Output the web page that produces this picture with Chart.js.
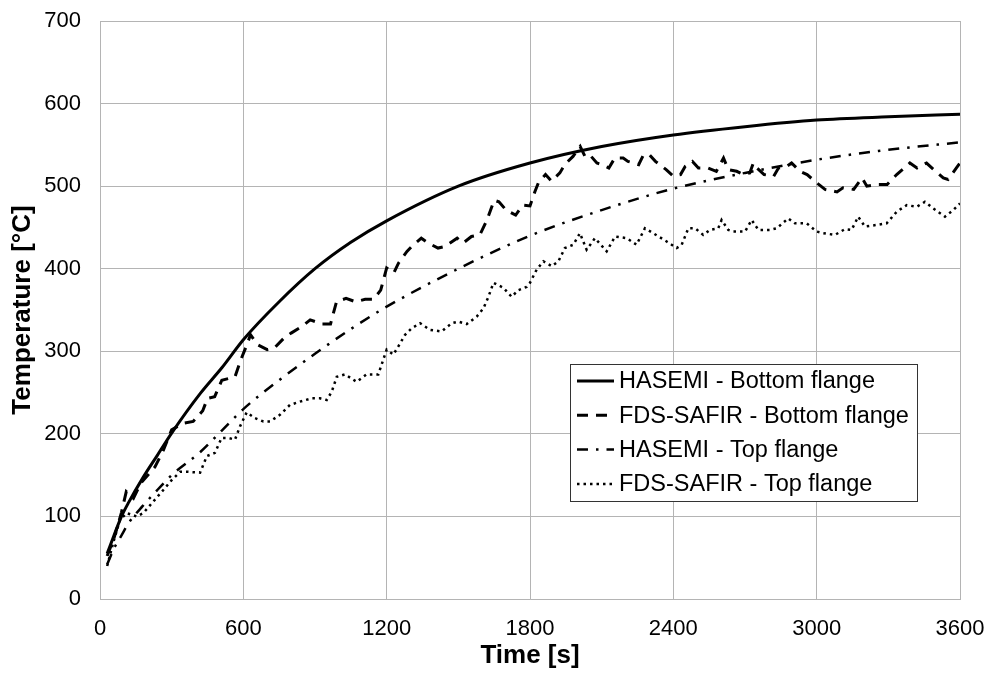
<!DOCTYPE html>
<html>
<head>
<meta charset="utf-8">
<script src="https://cdn.jsdelivr.net/npm/chart.js@4.4.1/dist/chart.umd.min.js"></script>
<style>
  html, body { margin: 0; padding: 0; background: #fff; }
  #wrap { width: 987px; height: 673px; }
</style>
</head>
<body>
<div id="wrap"><canvas id="chart" width="987" height="673"></canvas></div>
<script>
// HASEMI model curves (smooth)
const hasemiTime = [30, 60, 90, 120, 180, 240, 300, 420, 510, 600, 750, 900, 1050, 1200, 1500, 1800, 2100, 2400, 2700, 3000, 3300, 3600];
const hasemiBottom = [55, 78, 100, 117, 147, 174, 201, 249, 280, 314, 360, 400, 432, 458, 500, 528, 548, 562, 572, 580, 584, 587];
const hasemiTop = [42, 62, 77, 92, 113, 132, 150, 178, 204, 230, 265, 297, 327, 354, 400, 440, 471, 497, 516, 532, 544, 553];

// FDS-SAFIR results (noisy)
const fdsBottomTime = [30, 60, 90, 110, 140, 170, 230, 265, 300, 350, 390, 430, 450, 480, 510, 565, 590, 615, 630, 660, 700, 730, 770, 800, 845, 880, 930, 965, 990, 1030, 1070, 1110, 1145, 1175, 1200, 1230, 1250, 1285, 1305, 1345, 1375, 1415, 1445, 1495, 1520, 1555, 1590, 1620, 1650, 1670, 1700, 1740, 1770, 1800, 1820, 1835, 1865, 1890, 1925, 1945, 1980, 2010, 2030, 2050, 2080, 2100, 2130, 2155, 2190, 2210, 2255, 2275, 2300, 2325, 2370, 2400, 2430, 2450, 2480, 2505, 2545, 2580, 2610, 2630, 2665, 2695, 2720, 2735, 2750, 2780, 2820, 2840, 2875, 2895, 2930, 2960, 3000, 3035, 3085, 3110, 3155, 3190, 3210, 3250, 3295, 3335, 3390, 3420, 3460, 3490, 3530, 3550, 3585, 3600];
const fdsBottom = [52, 75, 105, 130, 122, 140, 160, 180, 205, 213, 215, 228, 243, 245, 265, 269, 290, 308, 320, 308, 302, 304, 316, 322, 330, 338, 333, 333, 360, 364, 360, 363, 363, 374, 401, 395, 407, 421, 427, 437, 431, 425, 427, 437, 431, 439, 441, 459, 483, 481, 471, 465, 477, 476, 493, 504, 514, 506, 516, 526, 536, 548, 536, 538, 528, 526, 522, 534, 534, 530, 526, 538, 538, 530, 520, 512, 514, 524, 530, 522, 522, 518, 534, 520, 518, 514, 516, 528, 522, 514, 512, 522, 524, 528, 518, 514, 504, 496, 493, 498, 496, 510, 500, 502, 502, 514, 528, 522, 528, 520, 510, 508, 522, 528];

const fdsTopTime = [30, 55, 84, 112, 153, 181, 223, 265, 300, 335, 370, 419, 447, 481, 509, 537, 565, 586, 614, 649, 684, 712, 753, 795, 837, 886, 921, 949, 970, 991, 1026, 1074, 1116, 1165, 1186, 1200, 1228, 1249, 1277, 1305, 1340, 1381, 1430, 1472, 1500, 1535, 1577, 1605, 1626, 1647, 1688, 1723, 1751, 1786, 1800, 1828, 1856, 1891, 1919, 1946, 1981, 2009, 2037, 2072, 2121, 2156, 2205, 2246, 2281, 2316, 2372, 2414, 2435, 2463, 2491, 2525, 2553, 2588, 2602, 2630, 2651, 2700, 2728, 2756, 2804, 2833, 2881, 2909, 2958, 3000, 3028, 3077, 3119, 3146, 3174, 3202, 3251, 3293, 3335, 3377, 3419, 3453, 3488, 3537, 3572, 3600];
const fdsTop = [40, 68, 96, 104, 100, 104, 118, 132, 144, 154, 154, 153, 173, 177, 195, 195, 193, 209, 226, 219, 215, 215, 223, 235, 239, 243, 243, 241, 251, 269, 272, 263, 272, 272, 290, 302, 296, 306, 320, 328, 334, 326, 324, 334, 336, 333, 342, 352, 366, 383, 377, 366, 374, 378, 383, 399, 409, 403, 409, 425, 429, 443, 423, 437, 421, 439, 437, 429, 449, 443, 433, 425, 429, 449, 449, 441, 447, 449, 459, 447, 445, 445, 459, 447, 447, 449, 461, 455, 455, 445, 443, 441, 448, 447, 463, 451, 453, 455, 469, 477, 475, 481, 473, 463, 471, 479];

const seriesNames = ["HASEMI - Bottom flange", "FDS-SAFIR - Bottom flange", "HASEMI - Top flange", "FDS-SAFIR - Top flange"];
const xTicks = [0, 600, 1200, 1800, 2400, 3000, 3600];
const yTicks = [0, 100, 200, 300, 400, 500, 600, 700];

function pairs(xs, ys) {
  return xs.map((x, i) => ({ x: x, y: ys[i] }));
}

const gridColor = "#b4b4b4";
const fontFamily = "'Liberation Sans', Arial, sans-serif";

// legend drawn inside the plot area, like the original
const legendBox = {
  id: "legendBox",
  afterDraw(chart) {
    const ctx = chart.ctx;
    const left = 570, top = 364, w = 347, h = 137;
    ctx.save();
    ctx.fillStyle = "#fff";
    ctx.fillRect(left, top, w, h);
    ctx.strokeStyle = "#333";
    ctx.lineWidth = 1;
    ctx.strokeRect(left + 0.5, top + 0.5, w, h);
    ctx.font = "23.5px " + fontFamily;
    ctx.textBaseline = "middle";
    ctx.fillStyle = "#000";
    chart.data.datasets.forEach((ds, i) => {
      const yy = top + 17 + i * 34.3;
      ctx.beginPath();
      ctx.setLineDash(ds.borderDash || []);
      ctx.lineWidth = ds.borderWidth;
      ctx.strokeStyle = ds.borderColor;
      ctx.moveTo(577, yy);
      ctx.lineTo(614, yy);
      ctx.stroke();
      ctx.setLineDash([]);
      ctx.fillText(ds.label, 619, yy + 1);
    });
    ctx.restore();
  }
};

new Chart(document.getElementById("chart"), {
  type: "line",
  data: {
    datasets: [
      {
        label: seriesNames[0],
        data: pairs(hasemiTime, hasemiBottom),
        borderColor: "#000",
        borderWidth: 3,
        pointRadius: 0,
        cubicInterpolationMode: "monotone",
      },
      {
        label: seriesNames[1],
        data: pairs(fdsBottomTime, fdsBottom),
        borderColor: "#000",
        borderWidth: 3,
        borderDash: [11, 8],
        pointRadius: 0,
        tension: 0,
      },
      {
        label: seriesNames[2],
        data: pairs(hasemiTime, hasemiTop),
        borderColor: "#000",
        borderWidth: 2.5,
        borderDash: [11, 8, 2.5, 8],
        pointRadius: 0,
        cubicInterpolationMode: "monotone",
      },
      {
        label: seriesNames[3],
        data: pairs(fdsTopTime, fdsTop),
        borderColor: "#000",
        borderWidth: 2.5,
        borderDash: [2.5, 4],
        pointRadius: 0,
        tension: 0,
      },
    ],
  },
  options: {
    responsive: false,
    animation: false,
    layout: { padding: { left: 0, top: 21, right: 27, bottom: 0 } },
    plugins: {
      legend: { display: false },
      tooltip: { enabled: false },
    },
    scales: {
      x: {
        type: "linear",
        min: 0,
        max: 3600,
        afterBuildTicks: (axis) => { axis.ticks = xTicks.map((v) => ({ value: v })); },
        afterFit: (axis) => {
          axis.height = 74;
          axis.paddingLeft = 0;
          axis.paddingRight = 0;
        },
        grid: { color: gridColor, drawTicks: false },
        border: { color: gridColor },
        ticks: { color: "#000", padding: 17, font: { family: fontFamily, size: 22 }, callback: (v) => String(v) },
        title: {
          display: true,
          text: "Time [s]",
          color: "#000",
          font: { family: fontFamily, size: 26, weight: "bold" },
          padding: { top: 0, bottom: 2 },
        },
      },
      y: {
        min: 0,
        max: 700,
        afterBuildTicks: (axis) => { axis.ticks = yTicks.map((v) => ({ value: v })); },
        afterFit: (axis) => {
          axis.width = 100;
          axis.paddingTop = 0;
          axis.paddingBottom = 0;
        },
        grid: { color: gridColor, drawTicks: false },
        border: { color: gridColor },
        ticks: { color: "#000", padding: 19, font: { family: fontFamily, size: 22 }, callback: (v) => String(v) },
        title: {
          display: true,
          text: "Temperature [°C]",
          color: "#000",
          font: { family: fontFamily, size: 26, weight: "bold" },
          padding: { top: 7, bottom: 0 },
        },
      },
    },
  },
  plugins: [legendBox, {
    id: "topBorder",
    afterDraw(chart) {
      const a = chart.chartArea, ctx = chart.ctx;
      ctx.save();
      ctx.strokeStyle = gridColor;
      ctx.lineWidth = 1;
      ctx.beginPath();
      ctx.moveTo(a.left, a.top + 0.5);
      ctx.lineTo(a.right, a.top + 0.5);
      ctx.stroke();
      ctx.restore();
    }
  }],
});
</script>
</body>
</html>
